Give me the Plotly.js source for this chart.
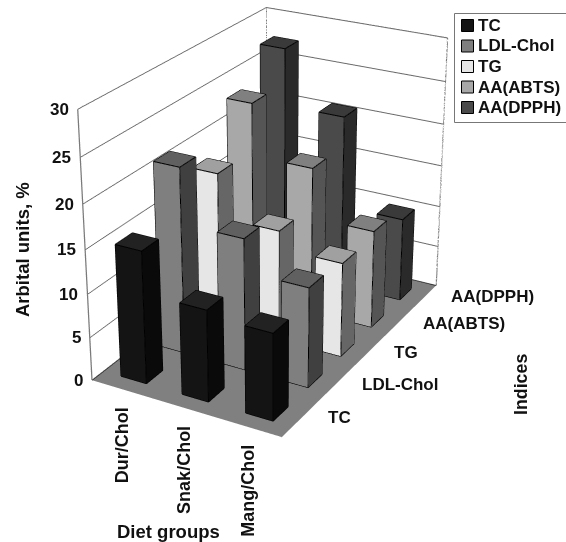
<!DOCTYPE html>
<html><head><meta charset="utf-8">
<script src="https://cdn.plot.ly/plotly-3.0.1.min.js"></script>
<style>html,body{margin:0;padding:0;background:#fff;overflow:hidden;width:566px;height:542px}#c{position:absolute}</style>
</head><body><div id="c"></div>
<script>
const groups=['Dur/Chol','Snak/Chol','Mang/Chol'];
const indices=['TC','LDL-Chol','TG','AA(ABTS)','AA(DPPH)'];
const TC=[15.2,10.5,9.9];
const LDL=[21.5,15.2,11.5];
const TG=[18,13,11];
const ABTS=[23.5,17.4,11.6];
const DPPH=[27.5,20.8,10];
const seriesValues=[TC,LDL,TG,ABTS,DPPH];
const front=['#141414','#7f7f7f','#e6e6e6','#a8a8a8','#4a4a4a'];
const side=['#0a0a0a','#404040','#666666','#555555','#2a2a2a'];
const top_=['#222222','#606060','#a0a0a0','#808080','#3a3a3a'];
const zTicks=[0,5,10,15,20,25,30];
const zMax=30;
const bw=0.42, bd=0.42;
const K=2.5,W0=566,H0=542,W=W0*K,H=H0*K,cx=273,cy0=205;
const left=cx-W/2,topOff=cy0-H/2;
const el=document.getElementById('c');el.style.left=left+'px';el.style.top=topOff+'px';el.style.width=W+'px';el.style.height=H+'px';
const PX=x=>(x-left)/W,PY=y=>1-(y-topOff)/H;
const traces=[];
seriesValues.forEach((vals,s)=>{
  const X=[],Y=[],Z=[],I=[],J=[],K_=[],FC=[];
  const lx=[],ly=[],lz=[];
  vals.forEach((v,g)=>{
    const x0=g+(1-bw)/2,x1=g+(1+bw)/2,y0=s+(1-bd)/2,y1=s+(1+bd)/2;
    const b=X.length;
    [[x0,y0,0],[x1,y0,0],[x1,y1,0],[x0,y1,0],[x0,y0,v],[x1,y0,v],[x1,y1,v],[x0,y1,v]].forEach(p=>{X.push(p[0]);Y.push(p[1]);Z.push(p[2]);});
    const tri=(a,c,d,col)=>{I.push(b+a);J.push(b+c);K_.push(b+d);FC.push(col);};
    tri(4,5,6,top_[s]);tri(4,6,7,top_[s]);
    tri(0,1,5,front[s]);tri(0,5,4,front[s]);
    tri(1,2,6,side[s]);tri(1,6,5,side[s]);
    tri(3,2,6,front[s]);tri(3,6,7,front[s]);
    tri(0,3,7,side[s]);tri(0,7,4,side[s]);
    [[0,1],[1,2],[2,3],[3,0],[4,5],[5,6],[6,7],[7,4],[0,4],[1,5],[2,6],[3,7]].forEach(e=>{
      lx.push(X[b+e[0]],X[b+e[1]],null);ly.push(Y[b+e[0]],Y[b+e[1]],null);lz.push(Z[b+e[0]],Z[b+e[1]],null);
    });
  });
  traces.push({type:'mesh3d',name:indices[s],x:X,y:Y,z:Z,i:I,j:J,k:K_,facecolor:FC,flatshading:true,
    lighting:{ambient:1,diffuse:0,specular:0,roughness:1,fresnel:0},hoverinfo:'skip',showscale:false});
  traces.push({type:'scatter3d',mode:'lines',x:lx,y:ly,z:lz,line:{color:'#000',width:2},showlegend:false,hoverinfo:'skip'});
});
const nx=groups.length,ny=indices.length;
const fx=[],fy=[],fz=[];
const seg=(a,b)=>{fx.push(a[0],b[0],null);fy.push(a[1],b[1],null);fz.push(a[2],b[2],null);};
seg([0,0,0],[0,0,zMax]);seg([0,0,zMax],[0,ny,zMax]);seg([0,ny,zMax],[nx,ny,zMax]);seg([nx,ny,zMax],[nx,ny,0]);seg([0,ny,0],[0,ny,zMax]);
zTicks.forEach(t=>seg([0,0,t],[0.0,-0.15,t]));
for(let i=0;i<=nx;i++)seg([i,0,0],[i,-0.15,-0.3]);
for(let i=0;i<=ny;i++)seg([nx,i,0],[nx+0.2,i,0]);
traces.push({type:'scatter3d',mode:'lines',x:fx,y:fy,z:fz,line:{color:'#7a7a7a',width:2.5},showlegend:false,hoverinfo:'skip'});
traces.push({type:'scatter3d',mode:'lines',x:[0,0,nx],y:[0,ny,ny],z:[0,0,0],line:{color:'#222',width:2},showlegend:false,hoverinfo:'skip'});
const F='Liberation Sans, Arial, sans-serif';
const sa=[];
zTicks.forEach(t=>sa.push({x:0,y:0,z:t,text:'<b>'+t+'</b>',showarrow:false,xanchor:'right',xshift:-7,font:{family:F,size:17,color:'#111'}}));
groups.forEach((g,i)=>sa.push({x:i+0.5,y:0,z:0,text:'<b>'+g+'</b>',showarrow:false,textangle:-90,yanchor:'top',xshift:0,yshift:-16,font:{family:F,size:18,color:'#111'}}));
indices.forEach((g,i)=>sa.push({x:nx,y:i+0.5,z:0,text:'<b>'+g+'</b>',showarrow:false,xanchor:'left',xshift:26,yshift:2,font:{family:F,size:17,color:'#111'}}));
const ann=[
 {xref:'paper',yref:'paper',x:PX(22),y:PY(249),xanchor:'center',yanchor:'middle',text:'<b>Arbital units, %</b>',textangle:-90,showarrow:false,font:{family:F,size:18.5,color:'#111'}},
 {xref:'paper',yref:'paper',x:PX(168),y:PY(531),xanchor:'center',yanchor:'middle',text:'<b>Diet groups</b>',showarrow:false,font:{family:F,size:18.5,color:'#111'}},
 {xref:'paper',yref:'paper',x:PX(520),y:PY(384),xanchor:'center',yanchor:'middle',text:'<b>Indices</b>',textangle:-90,showarrow:false,font:{family:F,size:17.8,color:'#111'}}
];
const shapes=[{type:'rect',xref:'paper',yref:'paper',x0:PX(454),x1:PX(567),y0:PY(122),y1:PY(13),line:{color:'#777',width:1},fillcolor:'#fff'}];
indices.forEach((n,i)=>{
  const cy=25+i*20.5;
  shapes.push({type:'rect',xref:'paper',yref:'paper',x0:PX(461),x1:PX(473),y0:PY(cy+6),y1:PY(cy-6),line:{color:'#000',width:1},fillcolor:front[i]});
  ann.push({xref:'paper',yref:'paper',x:PX(475),y:PY(cy),xanchor:'left',text:'<b>'+n+'</b>',showarrow:false,font:{family:F,size:17,color:'#111'}});
});
const ax={showticklabels:false,showspikes:false,zeroline:false,showline:false,ticks:'',title:{text:''}};
const layout={width:W,height:H,margin:{l:0,r:0,t:0,b:0},paper_bgcolor:'#fff',showlegend:false,
 annotations:ann,shapes:shapes,
 scene:{domain:{x:[0,1],y:[0,1]},
  aspectmode:'manual',aspectratio:{x:0.258,y:0.426,z:0.345},
  camera:{eye:{x:0.88,y:-1.585,z:0.82},center:{x:0,y:0,z:0},up:{x:0,y:0,z:1},projection:{type:'perspective'}},
  xaxis:Object.assign({},ax,{range:[0,nx],showgrid:false,showbackground:true,backgroundcolor:'#fff'}),
  yaxis:Object.assign({},ax,{range:[0,ny],showgrid:false,showbackground:true,backgroundcolor:'#fff'}),
  zaxis:Object.assign({},ax,{range:[0,zMax],dtick:5,tick0:0,showgrid:true,gridcolor:'#6a6a6a',gridwidth:2,showbackground:true,backgroundcolor:'#808080'}),
  annotations:sa}};
Plotly.newPlot('c',traces,layout,{displayModeBar:false});
</script></body></html>
